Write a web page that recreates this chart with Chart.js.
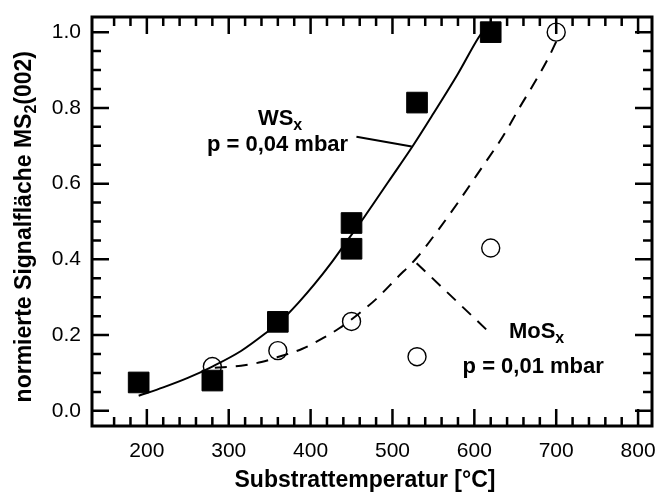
<!DOCTYPE html>
<html>
<head>
<meta charset="utf-8">
<script src="https://cdn.jsdelivr.net/npm/chart.js@4"></script>
<style>
  html, body { margin: 0; padding: 0; background: #fff; }
  #wrap { width: 658px; height: 501px; }
</style>
</head>
<body>
<div id="wrap"><canvas id="grafico"></canvas></div>
<script>
// Messpunkte WSx (p = 0,04 mbar)
const tempWS = [190, 280, 360, 450, 450, 530, 620];
const flaecheWS = [0.075, 0.08, 0.235, 0.428, 0.496, 0.814, 1.0];

// Messpunkte MoSx (p = 0,01 mbar)
const tempMoS = [280, 360, 450, 530, 620, 700];
const flaecheMoS = [0.117, 0.159, 0.236, 0.143, 0.43, 1.0];

// Ausgleichskurve WSx
const fitTempWS = [190, 220, 250, 280, 315, 345, 365, 385, 405, 425, 440, 465, 495, 525, 550, 580, 605, 615];
const fitWS = [0.040, 0.062, 0.087, 0.117, 0.158, 0.205, 0.240, 0.285, 0.335, 0.390, 0.435, 0.510, 0.605, 0.700, 0.785, 0.890, 0.985, 1.015];

// Ausgleichskurve MoSx
const fitTempMoS = [283, 315, 340, 360, 390, 415, 435, 455, 480, 505, 530, 555, 580, 610, 635, 655, 675, 690, 700];
const fitMoS = [0.114, 0.119, 0.129, 0.142, 0.164, 0.192, 0.218, 0.250, 0.295, 0.350, 0.405, 0.475, 0.550, 0.645, 0.725, 0.800, 0.872, 0.930, 0.975];

// Achsenbeschriftung
const xTicks = [200, 300, 400, 500, 600, 700, 800];
const yTicks = [0.0, 0.2, 0.4, 0.6, 0.8, 1.0];

const schrift = '"Liberation Sans", Arial, Helvetica, sans-serif';

const punkte = (xs, ys) => xs.map((v, i) => ({ x: v, y: ys[i] }));

// feste Achsengröße, kein Zusatzrand durch überstehende Beschriftung
function festeGroesse(s, w, h) {
  if (w !== null) s.width = w;
  if (h !== null) s.height = h;
  s.paddingLeft = 0;
  s.paddingRight = 0;
  s.paddingTop = 0;
  s.paddingBottom = 0;
}

// Text mit tiefgestellten Teilen, zentriert um x
function zeichneTeile(ctx, teile, x, y, groesse, subGroesse, subVersatz) {
  let breite = 0;
  teile.forEach(t => {
    ctx.font = 'bold ' + (t.sub ? subGroesse : groesse) + 'px ' + schrift;
    breite += ctx.measureText(t.text).width;
  });
  let cx = x - breite / 2;
  ctx.textAlign = 'left';
  ctx.textBaseline = 'alphabetic';
  teile.forEach(t => {
    ctx.font = 'bold ' + (t.sub ? subGroesse : groesse) + 'px ' + schrift;
    ctx.fillText(t.text, cx, t.sub ? y + subVersatz : y);
    cx += ctx.measureText(t.text).width;
  });
}

// Rahmen, Teilstriche, Beschriftungen
const rahmen = {
  id: 'rahmen',
  afterDatasetsDraw(chart) {
    const { ctx, chartArea: a, scales: { x, y } } = chart;
    ctx.save();
    ctx.strokeStyle = '#000';
    ctx.fillStyle = '#000';

    // Teilstriche nach innen, alle vier Seiten
    ctx.lineWidth = 2.5;
    ctx.beginPath();
    for (let v = 160; v <= 800; v += 20) {
      const px = x.getPixelForValue(v);
      const len = v % 100 === 0 ? 17 : 9;
      ctx.moveTo(px, a.bottom); ctx.lineTo(px, a.bottom - len);
      ctx.moveTo(px, a.top); ctx.lineTo(px, a.top + len);
    }
    for (let i = 0; i <= 20; i++) {
      const py = y.getPixelForValue(i * 0.05);
      const len = i % 4 === 0 ? 17 : 9;
      ctx.moveTo(a.left, py); ctx.lineTo(a.left + len, py);
      ctx.moveTo(a.right, py); ctx.lineTo(a.right - len, py);
    }
    ctx.stroke();

    ctx.lineWidth = 3;
    ctx.strokeRect(a.left, a.top, a.right - a.left, a.bottom - a.top);

    // Hinweislinien zu den Kurven
    ctx.lineWidth = 2;
    ctx.beginPath();
    ctx.moveTo(x.getPixelForValue(456), y.getPixelForValue(0.724));
    ctx.lineTo(x.getPixelForValue(523.5), y.getPixelForValue(0.698));
    ctx.stroke();
    ctx.setLineDash([12, 9]);
    ctx.beginPath();
    ctx.moveTo(x.getPixelForValue(529.5), y.getPixelForValue(0.39));
    ctx.lineTo(x.getPixelForValue(615), y.getPixelForValue(0.214));
    ctx.stroke();
    ctx.setLineDash([]);

    // Kurvenbeschriftungen
    zeichneTeile(ctx, [{ text: 'WS' }, { text: 'x', sub: true }],
      x.getPixelForValue(362.7), y.getPixelForValue(0.755), 22, 16, 5);
    zeichneTeile(ctx, [{ text: 'p = 0,04 mbar' }],
      x.getPixelForValue(359.6), y.getPixelForValue(0.685), 22, 16, 0);
    zeichneTeile(ctx, [{ text: 'MoS' }, { text: 'x', sub: true }],
      x.getPixelForValue(676), y.getPixelForValue(0.192), 22, 16, 5);
    zeichneTeile(ctx, [{ text: 'p = 0,01 mbar' }],
      x.getPixelForValue(671.9), y.getPixelForValue(0.101), 22, 16, 0);

    // Achsentitel
    zeichneTeile(ctx, [{ text: 'Substrattemperatur [°C]' }], 365, 486.7, 23, 16, 0);
    ctx.translate(31, 226.7);
    ctx.rotate(-Math.PI / 2);
    zeichneTeile(ctx, [{ text: 'normierte Signalfläche MS' }, { text: '2', sub: true }, { text: '(002)' }],
      0, 0, 23, 16, 5);
    ctx.restore();
  }
};

new Chart(document.getElementById('grafico'), {
  type: 'scatter',
  data: {
    datasets: [
      {
        label: 'WSx',
        data: punkte(tempWS, flaecheWS),
        pointStyle: 'rect',
        pointRadius: 14.6,
        backgroundColor: '#000',
        borderColor: '#000',
        borderWidth: 1
      },
      {
        label: 'MoSx',
        data: punkte(tempMoS, flaecheMoS),
        pointStyle: 'circle',
        pointRadius: 9,
        backgroundColor: 'rgba(0,0,0,0)',
        borderColor: '#000',
        borderWidth: 1.4
      },
      {
        label: 'Fit WSx',
        type: 'line',
        data: punkte(fitTempWS, fitWS),
        borderColor: '#000',
        borderWidth: 2,
        pointRadius: 0,
        fill: false,
        cubicInterpolationMode: 'monotone'
      },
      {
        label: 'Fit MoSx',
        type: 'line',
        data: punkte(fitTempMoS, fitMoS),
        borderColor: '#000',
        borderWidth: 2,
        borderDash: [12, 9],
        pointRadius: 0,
        fill: false,
        cubicInterpolationMode: 'monotone'
      }
    ]
  },
  options: {
    responsive: true,
    maintainAspectRatio: false,
    animation: false,
    layout: { autoPadding: false, padding: { left: 0, right: 6, top: 17, bottom: 0 } },
    scales: {
      x: {
        type: 'linear',
        min: 133,
        max: 817,
        afterBuildTicks: s => { s.ticks = xTicks.map(v => ({ value: v })); },
        afterFit: s => festeGroesse(s, null, 75),
        grid: { display: false, drawTicks: false },
        border: { display: false },
        ticks: {
          padding: 13,
          color: '#000',
          font: { family: schrift, size: 21 },
          callback: v => String(v)
        }
      },
      y: {
        min: -0.04,
        max: 1.04,
        afterBuildTicks: s => { s.ticks = yTicks.map(v => ({ value: v })); },
        afterFit: s => festeGroesse(s, 92, null),
        grid: { display: false, drawTicks: false },
        border: { display: false },
        ticks: {
          padding: 11,
          color: '#000',
          font: { family: schrift, size: 21 },
          callback: v => Number(v).toFixed(1)
        }
      }
    },
    plugins: {
      legend: { display: false },
      tooltip: { enabled: false }
    }
  },
  plugins: [rahmen]
});
</script>
</body>
</html>
